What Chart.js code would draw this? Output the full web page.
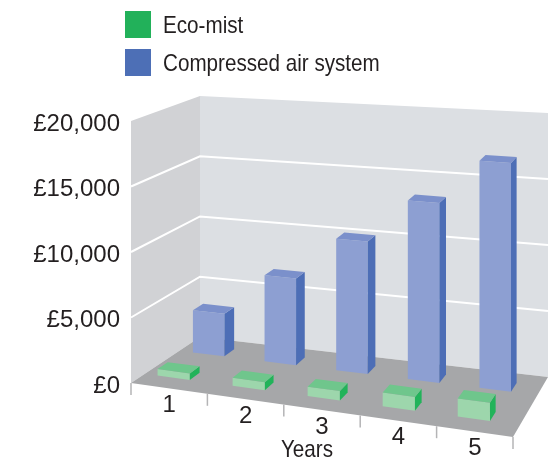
<!DOCTYPE html>
<html>
<head>
<meta charset="utf-8">
<script src="https://cdn.jsdelivr.net/npm/chart.js@4.4.1/dist/chart.umd.min.js"></script>
<style>
html, body { margin: 0; padding: 0; background: #ffffff; }
canvas { display: block; }
</style>
</head>
<body>
<canvas id="chart" width="549" height="461"></canvas>
<script>
// ---------------- data ----------------
const years = ['1', '2', '3', '4', '5'];
const ecoMist = [500, 600, 700, 1000, 1300];
const compressedAir = [3400, 6800, 10200, 13600, 17000];
const seriesNames = ['Eco-mist', 'Compressed air system'];
const yTickValues = [0, 5000, 10000, 15000, 20000];
const yTickLabels = ['£0', '£5,000', '£10,000', '£15,000', '£20,000'];
const xAxisTitle = 'Years';

// ---------------- styles ----------------
const TEXT = '#231f20';
const NUM_FONT = "'Liberation Sans', Arial, sans-serif";
const WORD_FONT = "'Liberation Sans', Arial, sans-serif";
const WORD_SQUEEZE = 0.86;   // condensed look for word labels
const WALL_BACK = '#dcdfe3';
const WALL_LEFT = '#d1d2d5';
const FLOOR = '#a6a7a9';
const GRID = '#ffffff';
const TICK = '#b4b4b6';
const SERIES_STYLE = [
  { legend: '#22b15a', front: '#9dd6ac', side: '#22b35a', top: '#6fc68c', d0: 0.20, depth: 0.15, offset: -0.115, width: 0.43 },
  { legend: '#4d6fb6', front: '#8d9fd2', side: '#4d6eb6', top: '#7b90cb', d0: 0.70, depth: 0.15, offset: -0.09, width: 0.44 }
];
// box geometry relative to the chart area (oblique/perspective look)
const GEOM = {
  frontDrop: 54, frontRightScale: 1.095,
  backLeftDx: 69, backLeftDy: -46, backLeftScale: 0.92,
  backRightDx: 35, backRightDy: -6, backRightScale: 1.008
};

function makeProjector(area) {
  const L = area.left, R = area.right, T = area.top, B = area.bottom, H = B - T;
  const g = GEOM;
  const c = {
    fl0: [L, B], fl1: [L, T],
    fr0: [R, B + g.frontDrop], fr1: [R, B + g.frontDrop - H * g.frontRightScale],
    bl0: [L + g.backLeftDx, B + g.backLeftDy], bl1: [L + g.backLeftDx, B + g.backLeftDy - H * g.backLeftScale],
    br0: [R + g.backRightDx, B + g.backRightDy], br1: [R + g.backRightDx, B + g.backRightDy - H * g.backRightScale]
  };
  function bil(a, b, p, q, u, d) {
    const f0 = a[0] + (b[0] - a[0]) * u, f1 = a[1] + (b[1] - a[1]) * u;
    const k0 = p[0] + (q[0] - p[0]) * u, k1 = p[1] + (q[1] - p[1]) * u;
    return [f0 + (k0 - f0) * d, f1 + (k1 - f1) * d];
  }
  return function (u, d, v) {
    const p0 = bil(c.fl0, c.fr0, c.bl0, c.br0, u, d);
    const p1 = bil(c.fl1, c.fr1, c.bl1, c.br1, u, d);
    return [p0[0] + (p1[0] - p0[0]) * v, p0[1] + (p1[1] - p0[1]) * v];
  };
}

function poly(ctx, pts, fill) {
  ctx.beginPath();
  ctx.moveTo(pts[0][0], pts[0][1]);
  for (let i = 1; i < pts.length; i++) ctx.lineTo(pts[i][0], pts[i][1]);
  ctx.closePath();
  ctx.fillStyle = fill;
  ctx.fill();
}

function wordText(ctx, text, x, y, align) {
  ctx.save();
  ctx.translate(x, y);
  ctx.scale(WORD_SQUEEZE, 1);
  ctx.textAlign = align;
  ctx.fillText(text, 0, 0);
  ctx.restore();
}

const box3d = {
  id: 'box3d',
  beforeDatasetsDraw(chart) {
    const ctx = chart.ctx;
    const xs = chart.scales.x, ys = chart.scales.y;
    const P = makeProjector(chart.chartArea);
    const vNorm = val => (ys.bottom - ys.getPixelForValue(val)) / (ys.bottom - ys.top);
    const uOf = px => (px - xs.left) / (xs.right - xs.left);
    ctx.save();
    // walls
    poly(ctx, [P(0, 0, 0), P(0, 1, 0), P(0, 1, 1), P(0, 0, 1)], WALL_LEFT);
    poly(ctx, [P(0, 1, 0), P(1, 1, 0), P(1, 1, 1), P(0, 1, 1)], WALL_BACK);
    // gridlines
    ctx.strokeStyle = GRID;
    ctx.lineWidth = 2;
    yTickValues.forEach(t => {
      if (t === ys.min || t === ys.max) return;
      const v = vNorm(t);
      const a = P(0, 0, v), b = P(0, 1, v), c = P(1, 1, v);
      ctx.beginPath();
      ctx.moveTo(a[0], a[1]); ctx.lineTo(b[0], b[1]); ctx.lineTo(c[0], c[1]);
      ctx.stroke();
    });
    // floor
    poly(ctx, [P(0, 0, 0), P(1, 0, 0), P(1, 1, 0), P(0, 1, 0)], FLOOR);
    // front tick marks
    ctx.strokeStyle = TICK;
    ctx.lineWidth = 1.5;
    const n = years.length;
    for (let k = 0; k <= n; k++) {
      const p = P(k / n, 0, 0);
      ctx.beginPath();
      ctx.moveTo(p[0], p[1]); ctx.lineTo(p[0], p[1] + 12);
      ctx.stroke();
    }
    // bars (back row first)
    const catW = uOf(xs.getPixelForValue(1)) - uOf(xs.getPixelForValue(0));
    for (let di = chart.data.datasets.length - 1; di >= 0; di--) {
      const ds = chart.data.datasets[di];
      const st = SERIES_STYLE[di];
      ds.data.forEach((val, i) => {
        const uc = uOf(xs.getPixelForValue(i)) + st.offset * catW;
        const u0 = uc - st.width * catW / 2, u1 = uc + st.width * catW / 2;
        const d0 = st.d0, d1 = st.d0 + st.depth;
        const vt = vNorm(val);
        poly(ctx, [P(u0, d0, 0), P(u1, d0, 0), P(u1, d0, vt), P(u0, d0, vt)], st.front);
        poly(ctx, [P(u1, d0, 0), P(u1, d1, 0), P(u1, d1, vt), P(u1, d0, vt)], st.side);
        poly(ctx, [P(u0, d0, vt), P(u1, d0, vt), P(u1, d1, vt), P(u0, d1, vt)], st.top);
      });
    }
    // category labels
    ctx.fillStyle = TEXT;
    ctx.font = '24px ' + NUM_FONT;
    ctx.textAlign = 'center';
    ctx.textBaseline = 'middle';
    years.forEach((lab, i) => {
      const p = P(uOf(xs.getPixelForValue(i)), 0, 0);
      ctx.fillText(lab, p[0], p[1] + 17);
    });
    // axis title
    ctx.font = '24px ' + WORD_FONT;
    const mid = P(0.5, 0, 0);
    wordText(ctx, xAxisTitle, mid[0] - 15, mid[1] + 40, 'center');
    // legend
    chart.data.datasets.forEach((ds, i) => {
      const y = 11 + i * 38;
      ctx.fillStyle = SERIES_STYLE[i].legend;
      ctx.fillRect(125, y, 26, 27);
      ctx.fillStyle = TEXT;
      wordText(ctx, ds.label, 163, y + 15, 'left');
    });
    ctx.restore();
  }
};

new Chart(document.getElementById('chart'), {
  type: 'bar',
  data: {
    labels: years,
    datasets: [
      { label: seriesNames[0], data: ecoMist, backgroundColor: 'rgba(0,0,0,0)', borderWidth: 0 },
      { label: seriesNames[1], data: compressedAir, backgroundColor: 'rgba(0,0,0,0)', borderWidth: 0 }
    ]
  },
  options: {
    responsive: false,
    animation: false,
    events: [],
    layout: { padding: { top: 121, bottom: 78, left: 0, right: 36 } },
    plugins: { legend: { display: false }, tooltip: { enabled: false } },
    scales: {
      x: { display: false },
      y: {
        min: 0, max: 20000,
        afterFit: s => { s.width = 131; },
        afterBuildTicks: s => { s.ticks = yTickValues.map(v => ({ value: v })); },
        grid: { display: false, drawTicks: false },
        border: { display: false },
        ticks: {
          padding: 11,
          labelOffset: 3,
          color: TEXT,
          font: { family: NUM_FONT, size: 24 },
          callback: (v) => yTickLabels[yTickValues.indexOf(v)]
        }
      }
    }
  },
  plugins: [box3d]
});
</script>
</body>
</html>
